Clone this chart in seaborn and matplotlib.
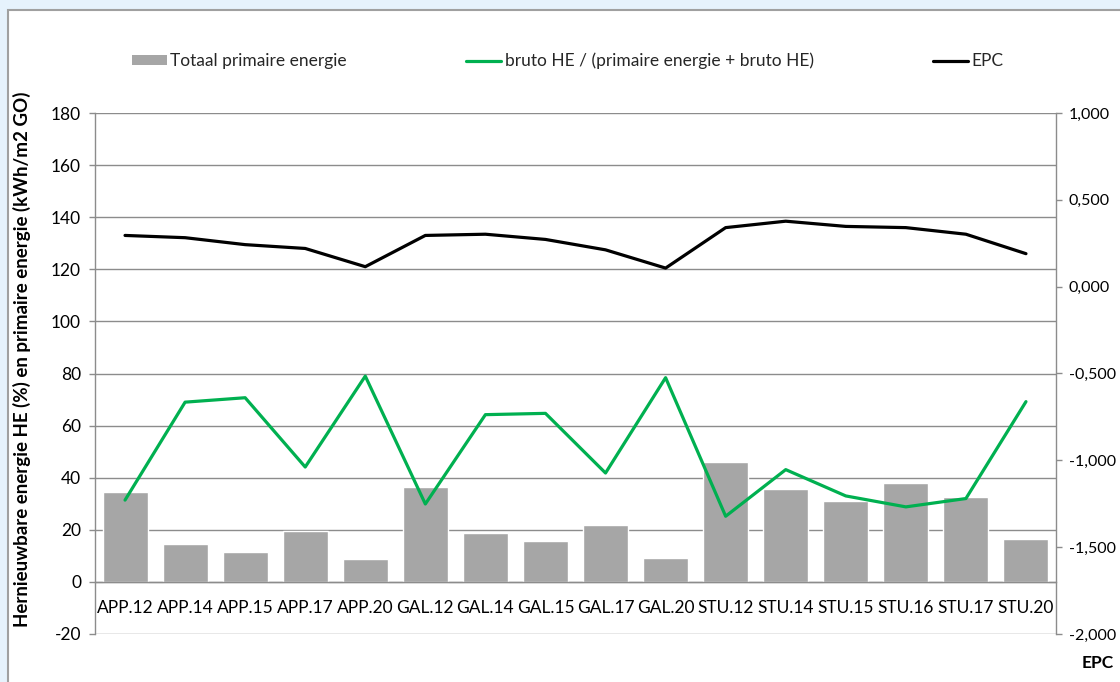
import numpy as np
import pandas as pd
import seaborn as sns
import matplotlib.pyplot as plt
from matplotlib.patches import Rectangle
from matplotlib.lines import Line2D
from matplotlib.patches import Patch
from matplotlib.ticker import FixedLocator, FuncFormatter

# categories and series
labels = ['APP.12', 'APP.14', 'APP.15', 'APP.17', 'APP.20',
          'GAL.12', 'GAL.14', 'GAL.15', 'GAL.17', 'GAL.20',
          'STU.12', 'STU.14', 'STU.15', 'STU.16', 'STU.17', 'STU.20']
primaire = [34.4, 14.5, 11.4, 19.6, 8.7, 36.5, 18.6, 15.6, 21.8, 9.2,
            46.0, 35.6, 31.2, 38.1, 32.4, 16.4]
bruto_he = [31.4, 69.0, 70.7, 44.1, 79.0, 29.9, 64.2, 64.7, 41.8, 78.4,
            25.2, 43.1, 33.0, 28.8, 32.0, 69.2]
epc = [0.295, 0.282, 0.242, 0.220, 0.115, 0.295, 0.302, 0.272, 0.212, 0.107,
       0.340, 0.377, 0.347, 0.340, 0.302, 0.190]

df = pd.DataFrame({'label': labels, 'pos': np.arange(len(labels)),
                   'primaire': primaire, 'bruto_he': bruto_he, 'epc': epc})

sns.set_style('white')
plt.rcParams['font.family'] = ['Lato', 'DejaVu Sans']
plt.rcParams['axes.unicode_minus'] = False

grey_bar = '#A6A6A6'
green = '#00B050'
axis_grey = '#8C8C8C'
text_col = '#000000'
fs = 12.5

fig = plt.figure(figsize=(11.2, 6.82), dpi=100)
fig.patch.set_facecolor('#E6F2FC')
# white chart area with grey border
fig.patches.append(Rectangle((8 / 1120, -0.05), 1.2, 1 - 10 / 682 + 0.05,
                             transform=fig.transFigure, facecolor='white',
                             edgecolor='#A0A0A0', linewidth=1.5, zorder=-10))

ax = fig.add_axes([95 / 1120, 1 - 634 / 682, 961 / 1120, 521 / 682])
ax.set_facecolor('none')

sns.barplot(data=df, x='label', y='primaire', color=grey_bar, width=0.75,
            saturation=1, ax=ax, zorder=2)
sns.lineplot(data=df, x='pos', y='bruto_he', color=green, linewidth=2.3,
             ax=ax, zorder=3)

ax.set_xlim(-0.5, len(labels) - 0.5)
ax.set_ylim(-20, 180)
ax.set_yticks(np.arange(-20, 181, 20))
ax.yaxis.set_major_formatter(FuncFormatter(lambda v, p: f'{v:.0f}'))
ax.grid(axis='y', color=axis_grey, linewidth=1.0, zorder=0)
ax.set_axisbelow(True)
ax.set_xlabel('')
ax.set_ylabel('')

ax.spines['top'].set_visible(False)
ax.spines['right'].set_visible(False)
ax.spines['left'].set_color(axis_grey)
ax.spines['bottom'].set_color(axis_grey)
ax.spines['bottom'].set_position(('data', 0))
for s in ['left', 'bottom']:
    ax.spines[s].set_linewidth(1.0)

ax.set_xticks(np.arange(len(labels)))
ax.set_xticklabels(labels)
ax.xaxis.set_minor_locator(FixedLocator(np.arange(0.5, len(labels) - 1, 1)))
ax.tick_params(axis='x', which='major', length=0, pad=13, labelsize=fs,
               colors=text_col)
ax.tick_params(axis='x', which='minor', length=4, width=1, color=axis_grey,
               direction='out')
ax.tick_params(axis='y', length=4, width=1, color=axis_grey, pad=6,
               labelsize=fs, labelcolor=text_col, left=True)

# secondary axis for EPC
ax2 = ax.twinx()
sns.lineplot(data=df, x='pos', y='epc', color='black', linewidth=2.3, ax=ax2)
ax2.set_ylim(-2, 1)
ax2.set_yticks(np.arange(-2, 1.01, 0.5))
ax2.yaxis.set_major_formatter(
    FuncFormatter(lambda v, p: f'{v:.3f}'.replace('.', ',')))
ax2.set_ylabel('')
ax2.set_xlabel('')
for s in ['top', 'left', 'bottom']:
    ax2.spines[s].set_visible(False)
ax2.spines['right'].set_color(axis_grey)
ax2.spines['right'].set_linewidth(1.0)
ax2.tick_params(axis='y', length=4, width=1, color=axis_grey, pad=5,
                labelsize=11.5, labelcolor=text_col, right=True)
ax2.grid(False)

# axis titles
fig.text(22 / 1120, 1 - 359 / 682,
         'Hernieuwbare energie HE (%) en primaire energie (kWh/m2 GO)',
         rotation=90, ha='center', va='center', fontsize=13.5,
         fontweight='bold', color=text_col)
fig.text(1098 / 1120, 1 - 663 / 682, 'EPC', ha='center', va='center',
         fontsize=fs, fontweight='bold', color=text_col)

# legend
handles = [Patch(facecolor=grey_bar, edgecolor='none'),
           Line2D([], [], color=green, linewidth=2.3),
           Line2D([], [], color='black', linewidth=2.3)]
names = ['Totaal primaire energie',
         'bruto HE / (primaire energie + bruto HE)', 'EPC']
fig.legend(handles, names, loc='center', bbox_to_anchor=(0.507, 1 - 61 / 682),
           ncol=3, frameon=False, fontsize=fs, handlelength=2.0,
           handleheight=0.55, handletextpad=0.2, columnspacing=6.9)

fig.savefig('out.png', dpi=100, facecolor=fig.get_facecolor())
